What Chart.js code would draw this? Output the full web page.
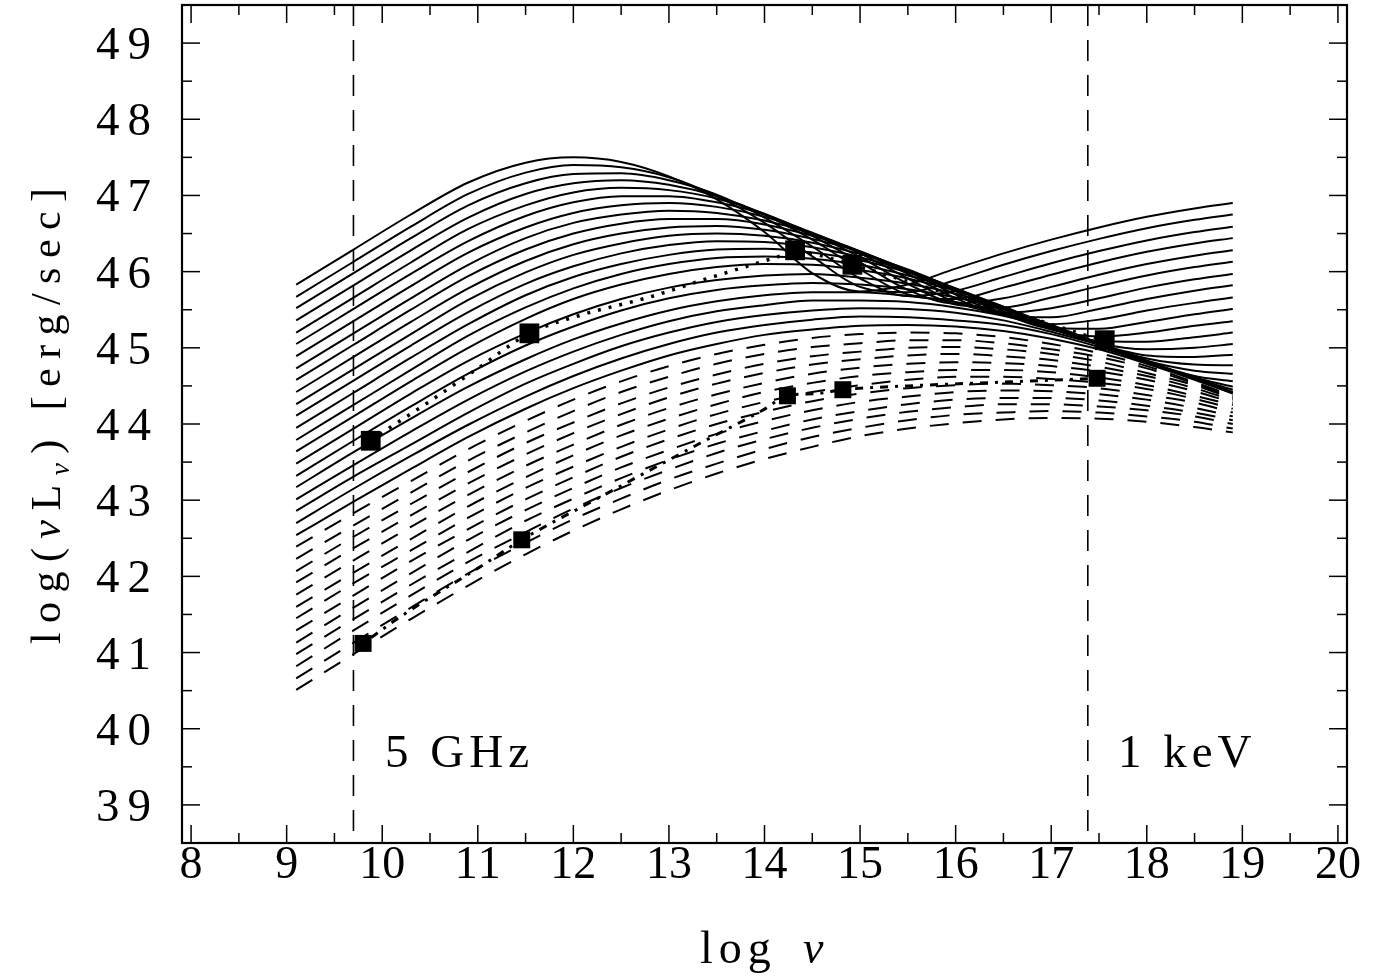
<!DOCTYPE html>
<html><head><meta charset="utf-8">
<script src="https://cdn.jsdelivr.net/npm/chart.js@4.4.1/dist/chart.umd.min.js"></script>
<style>html,body{margin:0;padding:0;background:#fff;}canvas{display:block;}</style>
</head><body>
<canvas id="c" width="1383" height="980"></canvas>
<script>
// ---- data ----
const logNu = [9.1, 9.7, 10.3, 10.9, 11.5, 12, 12.5, 13, 13.5, 14, 14.5, 15, 15.5, 16, 16.5, 17, 17.5, 18, 18.5, 18.9];

const solidCurves = [
 [45.83,46.29,46.75,47.17,47.43,47.50,47.44,47.25,46.95,46.52,45.98,45.74,45.83,46.04,46.24,46.42,46.58,46.72,46.83,46.90],
 [45.67,46.13,46.59,47.02,47.30,47.40,47.37,47.24,46.99,46.64,46.20,45.80,45.73,45.89,46.09,46.27,46.43,46.57,46.68,46.75],
 [45.52,45.98,46.44,46.87,47.16,47.28,47.29,47.20,47.01,46.71,46.33,45.91,45.68,45.75,45.93,46.11,46.27,46.41,46.52,46.59],
 [45.36,45.82,46.28,46.71,47.02,47.16,47.20,47.14,46.99,46.75,46.42,46.03,45.70,45.64,45.79,45.96,46.12,46.26,46.37,46.44],
 [45.20,45.66,46.12,46.56,46.87,47.04,47.10,47.07,46.96,46.76,46.47,46.12,45.76,45.58,45.65,45.80,45.96,46.10,46.21,46.28],
 [45.05,45.51,45.97,46.40,46.73,46.91,46.99,46.99,46.91,46.75,46.50,46.19,45.84,45.57,45.53,45.66,45.81,45.95,46.06,46.13],
 [44.89,45.35,45.81,46.25,46.58,46.77,46.87,46.90,46.85,46.72,46.51,46.24,45.91,45.60,45.46,45.52,45.65,45.79,45.90,45.97],
 [44.73,45.19,45.65,46.09,46.44,46.64,46.75,46.80,46.77,46.67,46.50,46.26,45.97,45.65,45.43,45.40,45.51,45.64,45.75,45.82],
 [44.58,45.04,45.50,45.94,46.29,46.50,46.63,46.69,46.69,46.62,46.47,46.27,46.00,45.70,45.43,45.31,45.37,45.49,45.59,45.66],
 [44.42,44.88,45.34,45.78,46.14,46.36,46.50,46.58,46.60,46.55,46.43,46.26,46.02,45.74,45.45,45.26,45.25,45.34,45.44,45.51],
 [44.26,44.72,45.18,45.63,45.99,46.22,46.37,46.47,46.50,46.47,46.38,46.23,46.03,45.77,45.48,45.24,45.15,45.20,45.29,45.35],
 [44.11,44.57,45.03,45.47,45.84,46.07,46.24,46.35,46.40,46.39,46.32,46.19,46.01,45.78,45.51,45.25,45.09,45.08,45.14,45.20],
 [43.95,44.41,44.87,45.31,45.69,45.93,46.10,46.22,46.29,46.30,46.25,46.15,45.99,45.78,45.53,45.27,45.06,44.98,45.00,45.05],
 [43.79,44.25,44.71,45.16,45.53,45.78,45.97,46.10,46.18,46.20,46.17,46.09,45.95,45.77,45.54,45.28,45.05,44.90,44.88,44.91],
 [43.64,44.10,44.56,45.00,45.38,45.64,45.83,45.97,46.06,46.10,46.09,46.02,45.91,45.75,45.54,45.29,45.05,44.86,44.78,44.77],
 [43.48,43.94,44.40,44.83,45.19,45.44,45.64,45.79,45.89,45.95,45.97,45.92,45.84,45.71,45.52,45.30,45.06,44.83,44.70,44.66],
 [43.32,43.78,44.23,44.66,45.03,45.28,45.49,45.65,45.76,45.82,45.85,45.83,45.77,45.66,45.51,45.30,45.06,44.82,44.63,44.56],
 [43.17,43.63,44.07,44.49,44.85,45.11,45.32,45.49,45.61,45.69,45.73,45.73,45.68,45.60,45.46,45.28,45.06,44.83,44.61,44.49],
 [43.01,43.46,43.90,44.32,44.69,44.95,45.17,45.35,45.48,45.56,45.62,45.62,45.60,45.53,45.42,45.26,45.05,44.82,44.60,44.45],
 [42.86,43.31,43.73,44.15,44.53,44.79,45.02,45.20,45.34,45.43,45.49,45.52,45.51,45.46,45.36,45.21,45.04,44.82,44.59,44.42],
 [42.70,43.15,43.58,43.99,44.36,44.63,44.86,45.05,45.20,45.30,45.37,45.41,45.40,45.36,45.30,45.18,45.01,44.81,44.59,44.40],
 [42.54,42.98,43.41,43.83,44.20,44.47,44.70,44.90,45.05,45.17,45.24,45.29,45.30,45.28,45.22,45.12,44.98,44.79,44.58,44.40]
];

const dashedCurves = [
 [42.39,42.83,43.25,43.67,44.04,44.32,44.56,44.76,44.92,45.04,45.13,45.18,45.20,45.19,45.14,45.05,44.93,44.76,44.55,44.37],
 [42.23,42.67,43.10,43.52,43.89,44.17,44.42,44.62,44.79,44.92,45.01,45.06,45.10,45.10,45.06,44.98,44.88,44.73,44.53,44.35],
 [42.07,42.52,42.95,43.37,43.75,44.02,44.27,44.48,44.65,44.79,44.89,44.95,45.00,45.01,44.98,44.92,44.82,44.67,44.51,44.33],
 [41.92,42.37,42.80,43.22,43.60,43.88,44.13,44.35,44.53,44.67,44.78,44.85,44.90,44.92,44.89,44.84,44.75,44.63,44.47,44.31],
 [41.76,42.21,42.65,43.07,43.45,43.73,43.99,44.21,44.39,44.54,44.66,44.74,44.79,44.81,44.80,44.76,44.69,44.58,44.43,44.28],
 [41.60,42.05,42.49,42.92,43.30,43.59,43.85,44.07,44.26,44.42,44.54,44.63,44.68,44.71,44.71,44.68,44.61,44.51,44.37,44.25],
 [41.45,41.91,42.34,42.77,43.16,43.44,43.70,43.93,44.13,44.29,44.42,44.51,44.58,44.62,44.62,44.59,44.54,44.46,44.33,44.20],
 [41.29,41.75,42.20,42.62,43.01,43.30,43.57,43.80,44.00,44.16,44.30,44.40,44.47,44.51,44.53,44.51,44.47,44.38,44.28,44.15],
 [41.13,41.59,42.04,42.48,42.87,43.16,43.43,43.66,43.87,44.04,44.18,44.29,44.36,44.42,44.44,44.43,44.39,44.32,44.21,44.10],
 [40.98,41.44,41.89,42.32,42.73,43.02,43.29,43.53,43.74,43.91,44.06,44.17,44.26,44.32,44.34,44.34,44.31,44.24,44.15,44.05],
 [40.82,41.29,41.75,42.19,42.58,42.89,43.16,43.40,43.62,43.80,43.95,44.07,44.16,44.22,44.26,44.26,44.23,44.18,44.10,44.00],
 [40.66,41.13,41.59,42.04,42.44,42.75,43.02,43.27,43.48,43.67,43.83,43.95,44.05,44.12,44.15,44.17,44.15,44.10,44.03,43.94],
 [40.51,40.98,41.44,41.88,42.29,42.60,42.88,43.13,43.35,43.54,43.70,43.84,43.94,44.01,44.06,44.08,44.07,44.03,43.96,43.89]
];

// model curves through the observed objects (dotted / dot-dashed)
const upperFitX = [9.88, 10.09, 10.5, 11.0, 11.54, 12.08, 12.78, 13.43, 14.13, 14.32, 14.92, 15.5, 16.0, 16.5, 17.0, 17.37, 17.56];
const upperFitY = [43.78, 43.96, 44.30, 44.73, 45.19, 45.43, 45.66, 45.92, 46.19, 46.26, 46.09, 45.87, 45.68, 45.49, 45.31, 45.16, 45.10];
const lowerFitX = [9.80, 10.19, 11.03, 11.46, 12.28, 13.33, 13.98, 14.24, 14.55, 14.82, 15.5, 16.5, 17.3, 17.48];
const lowerFitY = [41.12, 41.47, 42.13, 42.48, 43.04, 43.75, 44.18, 44.37, 44.40, 44.45, 44.50, 44.55, 44.59, 44.60];

// observed points (filled squares)
const upperObjX = [9.88, 11.54, 14.32, 14.92, 17.56];
const upperObjY = [43.78, 45.19, 46.28, 46.09, 45.10];
const lowerObjX = [9.80, 11.46, 14.24, 14.82, 17.48];
const lowerObjY = [41.12, 42.48, 44.37, 44.45, 44.60];

// reference frequencies
const refLines = [9.699, 17.383];
const refLabels = ['5 GHz', '1 keV'];

// axes
const xTicks = [8, 9, 10, 11, 12, 13, 14, 15, 16, 17, 18, 19, 20];
const yTicks = [39, 40, 41, 42, 43, 44, 45, 46, 47, 48, 49];

// ---- chart ----
const pts = (xs, ys) => xs.map((x, i) => ({x, y: ys[i]}));
const datasets = [];
datasets.push({data: pts(upperObjX, upperObjY), showLine: false, pointStyle: 'rect', pointRadius: 14, pointBackgroundColor: '#000', pointBorderWidth: 0, borderWidth: 0});
datasets.push({data: pts(lowerObjX, lowerObjY), showLine: false, pointStyle: 'rect', pointRadius: 12, pointBackgroundColor: '#000', pointBorderWidth: 0, borderWidth: 0});
datasets.push({data: pts(upperFitX, upperFitY), borderColor: '#000', borderWidth: 3.5, borderDash: [3, 8], pointRadius: 0, cubicInterpolationMode: 'monotone', tension: 0.4});
datasets.push({data: pts(lowerFitX, lowerFitY), borderColor: '#000', borderWidth: 3, borderDash: [3, 7, 8, 7], pointRadius: 0, cubicInterpolationMode: 'monotone', tension: 0.4});
refLines.forEach(v => datasets.push({data: [{x: v, y: 49.5}, {x: v, y: 38.5}], borderColor: '#000', borderWidth: 1.6, borderDash: [21, 14], pointRadius: 0}));
solidCurves.forEach(c => datasets.push({data: pts(logNu, c), borderColor: '#000', borderWidth: 2, pointRadius: 0, cubicInterpolationMode: 'monotone', tension: 0.4}));
dashedCurves.forEach(c => datasets.push({data: pts(logNu, c), borderColor: '#000', borderWidth: 2, borderDash: [19, 14], pointRadius: 0, cubicInterpolationMode: 'monotone', tension: 0.4}));

const FONT = '"Liberation Serif", "DejaVu Serif", serif';
function spaced(ctx, str, x, y, sp, align) {
  const chars = Array.from(str);
  let w = 0; chars.forEach(ch => w += ctx.measureText(ch).width); w += sp * (chars.length - 1);
  let cx = align === 'center' ? x - w / 2 : align === 'right' ? x - w : x;
  ctx.textAlign = 'left';
  chars.forEach(ch => { ctx.fillText(ch, cx, y); cx += ctx.measureText(ch).width + sp; });
  return w;
}

const deco = {
  id: 'deco',
  afterDatasetsDraw(chart) {
    const {ctx, chartArea: a, scales: {x, y}} = chart;
    ctx.save();
    ctx.strokeStyle = '#000'; ctx.fillStyle = '#000';
    // ticks (inward, all four sides)
    ctx.lineWidth = 1.5;
    const tick = (x1, y1, x2, y2) => { ctx.beginPath(); ctx.moveTo(x1, y1); ctx.lineTo(x2, y2); ctx.stroke(); };
    const MAJ = 18, MIN = 10;
    xTicks.forEach((v, i) => {
      const px = x.getPixelForValue(v);
      tick(px, a.bottom, px, a.bottom - MAJ); tick(px, a.top, px, a.top + MAJ);
      if (i < xTicks.length - 1) {
        const pm = x.getPixelForValue((v + xTicks[i + 1]) / 2);
        tick(pm, a.bottom, pm, a.bottom - MIN); tick(pm, a.top, pm, a.top + MIN);
      }
    });
    yTicks.forEach((v, i) => {
      const py = y.getPixelForValue(v);
      tick(a.left, py, a.left + MAJ, py); tick(a.right, py, a.right - MAJ, py);
      if (i < yTicks.length - 1) {
        const pm = y.getPixelForValue((v + yTicks[i + 1]) / 2);
        tick(a.left, pm, a.left + MIN, pm); tick(a.right, pm, a.right - MIN, pm);
      }
    });
    // frame
    ctx.lineWidth = 2.2;
    ctx.strokeRect(a.left, a.top, a.right - a.left, a.bottom - a.top);
    // tick labels
    ctx.textBaseline = 'alphabetic';
    ctx.font = '46px ' + FONT;
    xTicks.forEach(v => spaced(ctx, String(v), x.getPixelForValue(v), 878, 0, 'center'));
    ctx.font = '47px ' + FONT;
    yTicks.forEach(v => spaced(ctx, String(v), 151, y.getPixelForValue(v) + 16, 8, 'right'));
    // reference labels
    spaced(ctx, refLabels[0], 385, 767, 5, 'left');
    spaced(ctx, refLabels[1], 1118, 767, 5, 'left');
    // x title
    ctx.font = '46px ' + FONT;
    spaced(ctx, 'log', 700, 963, 6, 'left');
    ctx.font = 'italic 46px ' + FONT;
    ctx.fillText('ν', 803, 963);
    // y title (rotated)
    ctx.save();
    ctx.translate(60, 644);
    ctx.rotate(-Math.PI / 2);
    const segs = [
      {t: 'log(', f: '42px ' + FONT, dy: 0},
      {t: 'ν', f: 'italic 42px ' + FONT, dy: 0},
      {t: 'L', f: '42px ' + FONT, dy: 0},
      {t: 'ν', f: 'italic 28px ' + FONT, dy: 9},
      {t: ')', f: '42px ' + FONT, dy: 0},
      {t: ' ', f: '42px ' + FONT, dy: 0},
      {t: '[erg/sec]', f: '42px ' + FONT, dy: 0}
    ];
    let nat = 0, n = 0;
    segs.forEach(s => { ctx.font = s.f; Array.from(s.t).forEach(ch => { nat += ctx.measureText(ch).width; n++; }); });
    const sp = (456 - nat) / (n - 1);
    let cx = 0;
    ctx.textAlign = 'left';
    segs.forEach(s => { ctx.font = s.f; Array.from(s.t).forEach(ch => { ctx.fillText(ch, cx, s.dy); cx += ctx.measureText(ch).width + sp; }); });
    ctx.restore();
    ctx.restore();
  }
};

new Chart(document.getElementById('c'), {
  type: 'line',
  data: {datasets},
  options: {
    responsive: false, animation: false, devicePixelRatio: 1, events: [],
    layout: {autoPadding: false, padding: {left: 182, right: 36, top: 5, bottom: 137}},
    plugins: {legend: {display: false}, tooltip: {enabled: false}},
    scales: {
      x: {type: 'linear', min: 7.905, max: 20.095, display: false},
      y: {type: 'linear', min: 38.5, max: 49.5, display: false}
    }
  },
  plugins: [deco]
});
</script>
</body></html>
